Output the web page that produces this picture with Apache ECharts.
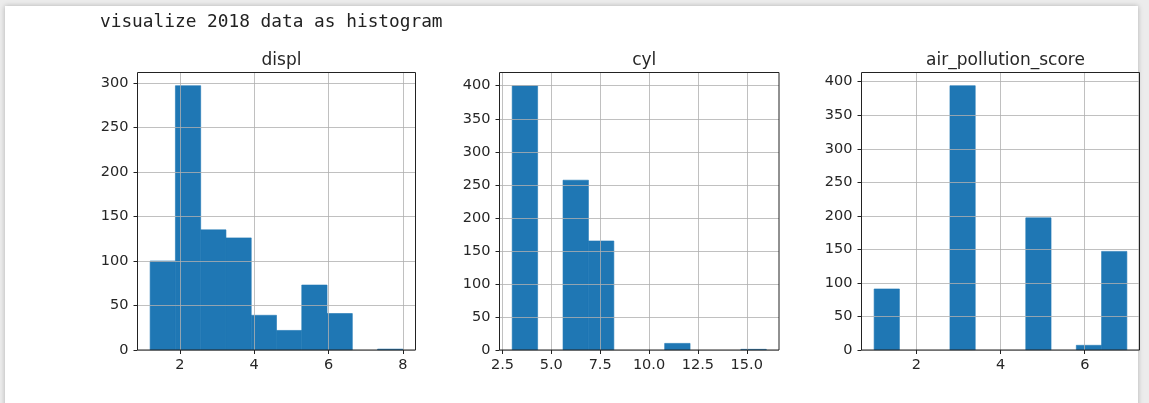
<!DOCTYPE html>
<html>
<head>
<meta charset="utf-8">
<script src="https://cdn.jsdelivr.net/npm/echarts@6/dist/echarts.min.js"></script>
<style>
html,body{margin:0;padding:0;width:1149px;height:403px;overflow:hidden;background:#ececec;}
#panel{position:absolute;left:5px;top:6px;width:1133px;height:420px;background:#fff;box-shadow:0 0 5px rgba(0,0,0,0.25);}
#chart{position:absolute;left:0;top:0;width:1149px;height:403px;}
</style>
</head>
<body>
<div id="panel"></div>
<div id="chart"></div>
<script>
// ---- data ----
const mainTitle = 'visualize 2018 data as histogram';
const panelTitles = ['displ', 'cyl', 'air_pollution_score'];

const displEdges = [1.2, 1.88, 2.56, 3.24, 3.92, 4.6, 5.28, 5.96, 6.64, 7.32, 8.0];
const displCounts = [100, 297, 135, 126, 39, 22, 73, 41, 0, 1];

const cylEdges = [3, 4.3, 5.6, 6.9, 8.2, 9.5, 10.8, 12.1, 13.4, 14.7, 16];
const cylCounts = [400, 0, 257, 165, 0, 0, 10, 0, 0, 1];

const airEdges = [1, 1.6, 2.2, 2.8, 3.4, 4, 4.6, 5.2, 5.8, 6.4, 7];
const airCounts = [91, 0, 0, 394, 0, 0, 197, 0, 7, 147];

const displXTicks = [2, 4, 6, 8];
const displYTicks = [0, 50, 100, 150, 200, 250, 300];
const cylXTicks = [2.5, 5, 7.5, 10, 12.5, 15];
const cylYTicks = [0, 50, 100, 150, 200, 250, 300, 350, 400];
const airXTicks = [2, 4, 6];
const airYTicks = [0, 50, 100, 150, 200, 250, 300, 350, 400];

// ---- layout ----
const grids = [
  {left: 137.5, top: 72.5, width: 278, height: 277.5},
  {left: 499.5, top: 72.5, width: 279.5, height: 277.5},
  {left: 861.5, top: 72.5, width: 278, height: 277.5}
];
const panels = [
  {edges: displEdges, counts: displCounts, xt: displXTicks, yt: displYTicks, fmt: v => String(v)},
  {edges: cylEdges, counts: cylCounts, xt: cylXTicks, yt: cylYTicks, fmt: v => v.toFixed(1)},
  {edges: airEdges, counts: airCounts, xt: airXTicks, yt: airYTicks, fmt: v => String(v)}
];

const FONT = 'DejaVu Sans';
const TXT = '#262626';
const BLUE = '#1f77b4';

const option = {
  animation: false,
  title: [{
    text: mainTitle, left: 95, top: 8,
    textStyle: {fontFamily: 'DejaVu Sans Mono', fontSize: 17.8, fontWeight: 'normal', color: '#222'}
  }].concat(panels.map((p, i) => ({
    text: panelTitles[i],
    left: grids[i].left + grids[i].width / 2,
    top: 47,
    textAlign: 'center',
    textStyle: {fontFamily: FONT, fontSize: 17, fontWeight: 'normal', color: TXT}
  }))),
  grid: grids.map(g => Object.assign({
    show: true, z: 10, borderColor: '#222', borderWidth: 1, backgroundColor: 'transparent', containLabel: false
  }, g)),
  xAxis: panels.map((p, i) => {
    const lo = p.edges[0], hi = p.edges[p.edges.length - 1], r = hi - lo;
    return {
      type: 'value', gridIndex: i, z: 5,
      min: lo - 0.05 * r, max: hi + 0.05 * r,
      axisLine: {show: false},
      axisTick: {show: true, inside: false, length: 4, customValues: p.xt, lineStyle: {color: '#222', width: 1}},
      axisLabel: {customValues: p.xt, formatter: p.fmt, margin: 8, fontFamily: FONT, fontSize: 14.5, color: TXT, showMinLabel: true, showMaxLabel: true},
      splitLine: {show: true, lineStyle: {color: '#b0b0b0', width: 0.8}}
    };
  }),
  yAxis: panels.map((p, i) => {
    const mx = Math.max.apply(null, p.counts);
    return {
      type: 'value', gridIndex: i, z: 5,
      min: 0, max: mx * 1.05,
      axisLine: {show: false},
      axisTick: {show: true, inside: false, length: 4, customValues: p.yt, lineStyle: {color: '#222', width: 1}},
      axisLabel: {customValues: p.yt, margin: 9, fontFamily: FONT, fontSize: 14.5, color: TXT, showMinLabel: true, showMaxLabel: true},
      splitLine: {show: true, lineStyle: {color: '#b0b0b0', width: 0.8}}
    };
  }),
  series: panels.map((p, i) => ({
    type: 'custom', xAxisIndex: i, yAxisIndex: i, z: 2,
    data: p.counts.map((c, k) => [p.edges[k], p.edges[k + 1], c]),
    encode: {x: [0, 1], y: 2},
    renderItem: function (params, api) {
      const x0 = api.value(0), x1 = api.value(1), c = api.value(2);
      if (!c) return null;
      const a = api.coord([x0, c]);
      const b = api.coord([x1, 0]);
      return {
        type: 'rect',
        shape: {x: a[0], y: a[1], width: b[0] - a[0], height: b[1] - a[1]},
        style: {fill: BLUE, stroke: BLUE, lineWidth: 0.6}
      };
    }
  }))
};

const chart = echarts.init(document.getElementById('chart'));
chart.setOption(option);
</script>
</body>
</html>
